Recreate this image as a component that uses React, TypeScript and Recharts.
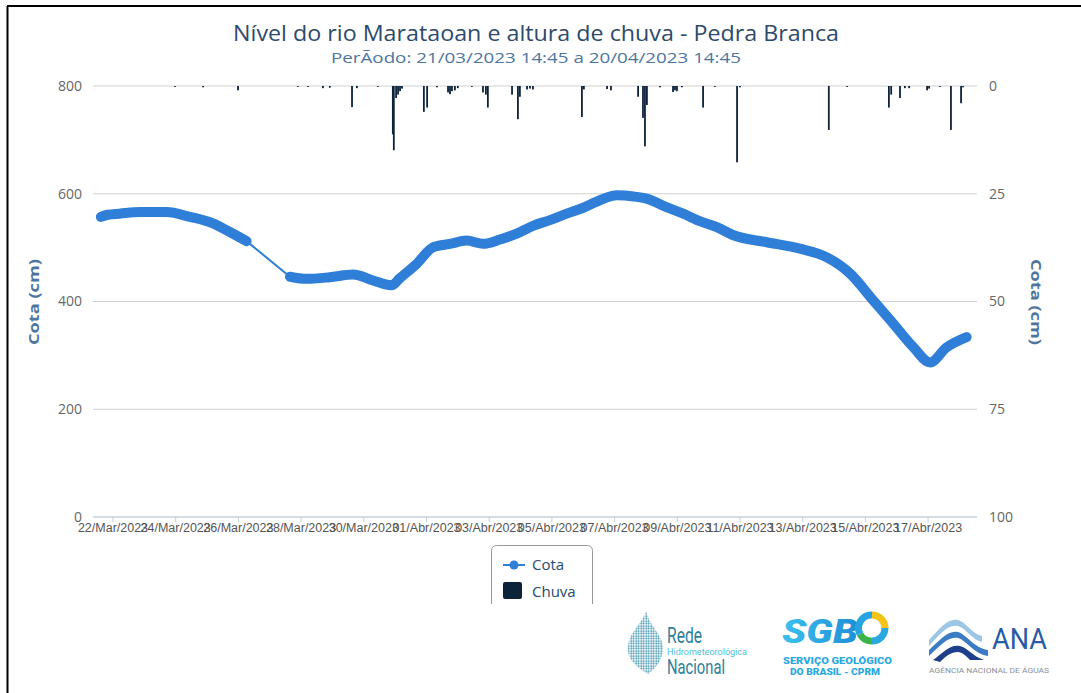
import React from 'react';
import { ComposedChart, Line, Bar, XAxis, YAxis, CartesianGrid } from 'recharts';

// Cota (cm) - leituras (null = sem dados)
const cotaHora = [
  '21/03 14:45', '21/03 20:00', '22/03 05:00', '22/03 21:00', '23/03 17:00',
  '24/03 11:00', '25/03 04:30', '25/03 17:30', '26/03 06:15', '26/03 23:00',
  '27/03 15:30', '28/03 04:15', '28/03 22:00', '29/03 16:00', '30/03 07:00',
  '30/03 21:15', '31/03 03:30', '31/03 16:30', '01/04 05:15', '01/04 18:00',
  '02/04 06:45', '02/04 19:30', '03/04 08:15', '03/04 21:00', '04/04 10:00',
  '04/04 22:30', '05/04 11:15', '06/04 00:00', '06/04 12:45', '07/04 01:45',
  '07/04 14:30', '08/04 00:30', '08/04 15:45', '09/04 04:30', '09/04 17:15',
  '10/04 06:15', '10/04 19:00', '11/04 20:30', '12/04 21:45', '13/04 18:30',
  '14/04 12:15', '15/04 06:00', '15/04 21:15', '16/04 12:45', '17/04 01:30',
  '17/04 14:15', '18/04 05:30'
];
const cotaCm = [
  557, 561, 563, 566, 566,
  557, 545, 529, 512, null,
  446, 442, 445, 450, 439,
  430, 443, 470, 501, 507,
  513, 507, 515, 526, 541,
  551, 563, 574, 588, 597,
  595, 591, 575, 563, 549,
  538, 523, 510, 498, 482,
  452, 402, 359, 315, 287,
  315, 334
];

// Chuva (mm)
const chuvaHora = [
  '23/03 23:30', '24/03 21:00', '25/03 23:45', '27/03 21:30', '28/03 05:15',
  '28/03 16:45', '28/03 22:00', '29/03 15:00', '29/03 18:45', '30/03 10:45',
  '30/03 22:15', '30/03 23:00', '31/03 00:45', '31/03 02:15', '31/03 03:45',
  '31/03 05:15', '31/03 22:00', '01/04 00:30', '01/04 08:00', '01/04 16:30',
  '01/04 18:00', '01/04 19:30', '01/04 21:45', '02/04 00:00', '02/04 10:45',
  '02/04 19:15', '02/04 21:30', '02/04 23:00', '03/04 17:30', '03/04 22:00',
  '03/04 23:30', '04/04 05:00', '04/04 07:15', '04/04 09:30', '05/04 23:00',
  '06/04 00:30', '06/04 18:15', '06/04 21:15', '07/04 18:00', '07/04 21:45',
  '07/04 23:15', '08/04 00:45', '08/04 10:45', '08/04 20:45', '08/04 22:15',
  '08/04 23:45', '09/04 03:30', '09/04 19:45', '10/04 04:45', '10/04 21:45',
  '11/04 00:00', '13/04 20:00', '14/04 10:00', '15/04 18:00', '15/04 19:45',
  '16/04 02:30', '16/04 06:15', '16/04 09:30', '16/04 23:15', '17/04 00:45',
  '17/04 09:00', '17/04 17:30', '18/04 01:15', '18/04 02:45'
];
const chuvaMm = [
  0.2, 0.3, 1.0, 0.2, 0.2,
  0.5, 0.4, 4.9, 0.5, 0.2,
  11.2, 14.9, 2.8, 2.0, 1.2,
  0.6, 6.0, 5.0, 0.3, 1.5,
  1.9, 1.2, 1.0, 0.5, 0.2,
  1.5, 2.0, 5.0, 2.0, 7.7,
  2.5, 0.8, 0.6, 0.8, 7.2,
  0.8, 0.7, 1.0, 2.5, 7.4,
  14.0, 4.4, 0.3, 1.4, 1.0,
  1.2, 0.3, 5.0, 0.2, 17.7,
  0.3, 10.2, 0.2, 5.0, 2.0,
  2.8, 0.5, 0.5, 1.0, 0.6,
  0.2, 10.2, 4.0, 0.3
];

const xTickDatas = [
  '22/03', '24/03', '26/03', '28/03', '30/03', '01/04', '03/04',
  '05/04', '07/04', '09/04', '11/04', '13/04', '15/04', '17/04'
];
const cotaTicks = [0, 200, 400, 600, 800];
const chuvaTicks = [0, 25, 50, 75, 100];

const ORIGEM = Date.UTC(2023, 2, 22);
const MESES = ['Jan', 'Fev', 'Mar', 'Abr', 'Mai', 'Jun', 'Jul', 'Ago', 'Set', 'Out', 'Nov', 'Dez'];

function diaDe(s: string): number {
  const [data, hora] = s.split(' ');
  const [dd, mm] = data.split('/').map(Number);
  const [h, mi] = (hora || '00:00').split(':').map(Number);
  return (Date.UTC(2023, mm - 1, dd, h, mi) - ORIGEM) / 864e5;
}

function rotuloDia(v: number): string {
  const dt = new Date(ORIGEM + Math.round(v * 864e5));
  return `${String(dt.getUTCDate()).padStart(2, '0')}/${MESES[dt.getUTCMonth()]}/${dt.getUTCFullYear()}`;
}

const cotaRows = cotaHora.map((h, i) => ({ d: diaDe(h), cota: cotaCm[i] }));
const chuvaRows = chuvaHora.map((h, i) => ({ d: diaDe(h), chuva: chuvaMm[i] }));
const xTicks = xTickDatas.map((s) => diaDe(s));
const xDomain = [diaDe('21/03 08:42'), diaDe('18/04 13:26')];

const AZUL = '#2f7ed8';
const ESCURO = '#0d233a';

// barra fina de chuva centrada no instante da leitura
const BarraChuva = (props: any) => {
  const { x, y, width, height } = props;
  if (height == null || !isFinite(height)) return null;
  const cx = x + width / 2;
  const top = Math.min(y, y + height);
  return <rect x={cx - 0.9} y={top} width={1.8} height={Math.abs(height)} fill={ESCURO} />;
};

const Logos = () => (
  <g>
    <rect x={470} y={604} width={611} height={89} fill="#fff" />
    <defs>
      <pattern id="pontos" width="2.5" height="2.5" patternUnits="userSpaceOnUse">
        <circle cx="1.2" cy="1.2" r="0.9" fill="#2c8aa6" />
      </pattern>
      <linearGradient id="sgb" x1="0" x2="1" y1="0" y2="0">
        <stop offset="0" stopColor="#3cc0ee" />
        <stop offset="1" stopColor="#1f8fd6" />
      </linearGradient>
    </defs>
    {/* Rede Hidrometeorológica Nacional */}
    <path
      d="M646,611 C642,624 629,632 628,647 C627,660 637,667 648,674 C656,668 663,660 663,648 C663,635 650,627 646,611 Z"
      fill="url(#pontos)"
    />
    <text x={667} y={643} fontFamily="Roboto" fontSize={22} fill="#2d7f9a" textLength={35} lengthAdjust="spacingAndGlyphs">Rede</text>
    <text x={667} y={655} fontFamily="Roboto" fontSize={9} fill="#4fbfdc" textLength={80} lengthAdjust="spacingAndGlyphs">Hidrometeorológica</text>
    <text x={667} y={674} fontFamily="Roboto" fontSize={21} fill="#2d7f9a" textLength={58} lengthAdjust="spacingAndGlyphs">Nacional</text>
    {/* SGB */}
    <text x={782} y={643} fontFamily="Roboto" fontWeight={900} fontStyle="italic" fontSize={34} fill="url(#sgb)" textLength={76} lengthAdjust="spacingAndGlyphs">SGB</text>
    <path d="M872,615 A13,13 0 0,1 885,628" stroke="#f4c318" strokeWidth={7} fill="none" />
    <path d="M885,628 A13,13 0 0,1 872,641" stroke="#2aa8e0" strokeWidth={7} fill="none" />
    <path d="M872,641 A13,13 0 0,1 860,634" stroke="#3bb54a" strokeWidth={7} fill="none" />
    <path d="M860,634 A13,13 0 0,1 872,615" stroke="#27a4df" strokeWidth={7} fill="none" />
    <text x={783} y={664} fontFamily="Roboto" fontWeight={900} fontSize={9} fill="#2aa8e0" textLength={109} lengthAdjust="spacingAndGlyphs">SERVIÇO GEOLÓGICO</text>
    <text x={790} y={675} fontFamily="Roboto" fontWeight={900} fontSize={9} fill="#2aa8e0" textLength={90} lengthAdjust="spacingAndGlyphs">DO BRASIL - CPRM</text>
    {/* ANA */}
    <path d="M929,640 C940,628 948,618 958,620 C966,622 972,634 982,636 L982,642 C972,640 966,628 958,626 C948,624 940,634 929,646 Z" fill="#9cc6e6" />
    <path d="M929,650 C940,640 948,630 958,632 C966,634 974,648 988,650 L988,656 C974,654 966,640 958,638 C948,636 940,646 929,656 Z" fill="#3b7cc4" />
    <path d="M933,660 C944,652 950,644 960,646 C968,648 972,656 984,660 L970,660 C966,656 962,652 958,652 C950,652 944,658 940,662 Z" fill="#1e3f8c" />
    <text x={992} y={649} fontFamily="Roboto" fontSize={29} fill="#2a5ca6" textLength={55} lengthAdjust="spacingAndGlyphs">ANA</text>
    <text x={929} y={673} fontFamily="Roboto" fontSize={6.5} fill="#8a9096" textLength={120} lengthAdjust="spacingAndGlyphs">AGÊNCIA NACIONAL DE ÁGUAS</text>
  </g>
);

export default function App() {
  return (
    <div style={{ position: 'absolute', left: 0, top: 0, width: 1081, height: 693, background: '#fff', overflow: 'hidden' }}>
      <ComposedChart
        width={1081}
        height={560}
        data={chuvaRows}
        margin={{ top: 86, right: 64, bottom: 13, left: 53 }}
      >
        <CartesianGrid yAxisId="cota" vertical={false} stroke="#d0d0d0" />
        <XAxis
          dataKey="d"
          type="number"
          domain={xDomain}
          allowDataOverflow
          ticks={xTicks}
          interval={0}
          tickFormatter={rotuloDia}
          height={30}
          tickSize={5}
          tickMargin={1}
          stroke="#c0d0e0"
          tick={{ fontSize: 12.5, fill: '#555', fontFamily: 'Liberation Sans, Arial, sans-serif' }}
        />
        <YAxis
          yAxisId="cota"
          domain={[0, 800]}
          ticks={cotaTicks}
          axisLine={false}
          tickLine={false}
          width={40}
          tickMargin={5}
          tick={{ fontSize: 14, fill: '#666', fontFamily: 'Open Sans, sans-serif' }}
        />
        <YAxis
          yAxisId="chuva"
          orientation="right"
          reversed
          domain={[0, 100]}
          ticks={chuvaTicks}
          axisLine={false}
          tickLine={false}
          width={40}
          tickMargin={6}
          tick={{ fontSize: 14, fill: '#666', fontFamily: 'Open Sans, sans-serif' }}
        />
        <Bar
          yAxisId="chuva"
          dataKey="chuva"
          name="Chuva"
          fill={ESCURO}
          barSize={2}
          shape={BarraChuva}
          isAnimationActive={false}
        />
        <Line
          yAxisId="cota"
          data={cotaRows}
          dataKey="cota"
          type="linear"
          stroke={AZUL}
          strokeWidth={2}
          dot={false}
          connectNulls
          isAnimationActive={false}
        />
        <Line
          yAxisId="cota"
          data={cotaRows}
          dataKey="cota"
          name="Cota"
          type="monotone"
          stroke={AZUL}
          strokeWidth={10}
          strokeLinecap="round"
          strokeLinejoin="round"
          dot={false}
          connectNulls={false}
          isAnimationActive={false}
        />
      </ComposedChart>
      <svg width={1081} height={693} style={{ position: 'absolute', left: 0, top: 0, pointerEvents: 'none' }}>
        <line x1={7.5} y1={6} x2={7.5} y2={693} stroke="#000" strokeWidth={2} />
        <line x1={7} y1={6} x2={1081} y2={6} stroke="#000" strokeWidth={2} />
        <text x={536} y={41} textAnchor="middle" fontFamily="Open Sans, sans-serif" fontSize={21} fill="#2e4a6b" textLength={606} lengthAdjust="spacingAndGlyphs">
          Nível do rio Marataoan e altura de chuva - Pedra Branca
        </text>
        <text x={536} y={63} textAnchor="middle" fontFamily="Open Sans, sans-serif" fontSize={15} fill="#4d759e" textLength={410} lengthAdjust="spacingAndGlyphs">
          PerÃodo: 21/03/2023 14:45 a 20/04/2023 14:45
        </text>
        <text transform="translate(39,302) rotate(-90)" textAnchor="middle" fontFamily="Open Sans, sans-serif" fontWeight="bold" fontSize={15} fill="#4d759e" textLength={86} lengthAdjust="spacingAndGlyphs">
          Cota (cm)
        </text>
        <text transform="translate(1031,302) rotate(90)" textAnchor="middle" fontFamily="Open Sans, sans-serif" fontWeight="bold" fontSize={15} fill="#4d759e" textLength={86} lengthAdjust="spacingAndGlyphs">
          Cota (cm)
        </text>
        {/* legenda */}
        <rect x={491.5} y={545.5} width={101} height={80} rx={5} fill="#fff" stroke="#999" />
        <line x1={503} y1={565} x2={525} y2={565} stroke={AZUL} strokeWidth={2} />
        <circle cx={514} cy={565} r={4.5} fill={AZUL} />
        <text x={532} y={570} fontFamily="Open Sans, sans-serif" fontSize={15} fill="#274b6d">Cota</text>
        <rect x={503} y={582} width={19} height={17} rx={2} fill={ESCURO} />
        <text x={532} y={597} fontFamily="Open Sans, sans-serif" fontSize={15} fill="#274b6d">Chuva</text>
        <Logos />
      </svg>
    </div>
  );
}
